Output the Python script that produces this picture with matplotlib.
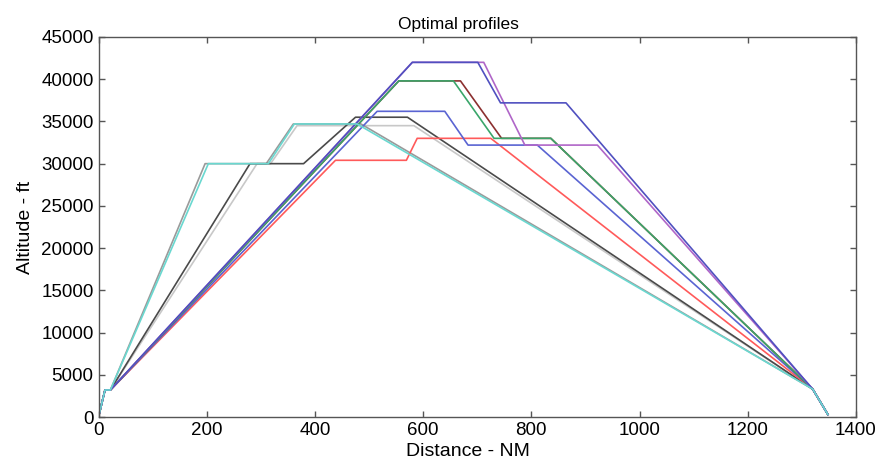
import matplotlib
matplotlib.use("Agg")
import matplotlib.pyplot as plt

plt.rcParams['font.family'] = ['Liberation Sans', 'DejaVu Sans']

# Distance (NM) and altitude (ft) of each optimal profile
blue_x = [0, 12, 22, 580, 701, 743, 864, 1320, 1348]
blue_y = [0, 3200, 3200, 42000, 42000, 37200, 37200, 3300, 300]
purple_x = [0, 12, 22, 580, 712, 788, 922, 1320, 1348]
purple_y = [0, 3200, 3200, 42000, 42000, 32200, 32200, 3300, 300]
green_x = [0, 12, 22, 555, 656, 731, 836, 1320, 1348]
green_y = [0, 3200, 3200, 39800, 39800, 33000, 33000, 3300, 300]
darkred_x = [0, 12, 22, 555, 669, 745, 836, 1320, 1348]
darkred_y = [0, 3200, 3200, 39800, 39800, 33000, 33000, 3300, 300]
blue2_x = [0, 12, 22, 515, 640, 683, 811, 1320, 1348]
blue2_y = [0, 3200, 3200, 36200, 36200, 32200, 32200, 3300, 300]
red_x = [0, 12, 22, 438, 569, 589, 725, 1320, 1348]
red_y = [0, 3200, 3200, 30400, 30400, 33000, 33000, 3300, 300]
black_x = [0, 12, 22, 280, 379, 475, 571, 1320, 1348]
black_y = [0, 3200, 3200, 30000, 30000, 35500, 35500, 3300, 300]
lightgray_x = [0, 12, 22, 293, 318, 367, 583, 1320, 1348]
lightgray_y = [0, 3200, 3200, 30000, 30000, 34500, 34500, 3300, 300]
gray_x = [0, 12, 22, 197, 310, 360, 485, 1320, 1348]
gray_y = [0, 3200, 3200, 30000, 30000, 34700, 34700, 3300, 300]
cyan_x = [0, 12, 22, 203, 314, 362, 478, 1320, 1348]
cyan_y = [0, 3200, 3200, 30000, 30000, 34700, 34700, 3300, 300]

xticks = [0, 200, 400, 600, 800, 1000, 1200, 1400]
yticks = [0, 5000, 10000, 15000, 20000, 25000, 30000, 35000, 40000, 45000]

fig = plt.figure(figsize=(8.85, 4.75), dpi=100)
ax = fig.add_axes([98.5 / 885, 1 - 417 / 475, (856 - 98.5) / 885, (417 - 37) / 475])

series = [
    (lightgray_x, lightgray_y, '#c8c8c8'),
    (gray_x, gray_y, '#9a9a9a'),
    (black_x, black_y, '#4a4a4a'),
    (red_x, red_y, '#ff5a5a'),
    (blue2_x, blue2_y, '#5a64d2'),
    (darkred_x, darkred_y, '#8c3030'),
    (green_x, green_y, '#3aa66a'),
    (purple_x, purple_y, '#b066c8'),
    (blue_x, blue_y, '#5050c0'),
    (cyan_x, cyan_y, '#6ad8d0'),
]
for x, y, c in series:
    ax.plot(x, y, color=c, lw=1.2)

ax.set_xlim(0, 1400)
ax.set_ylim(0, 45000)
ax.set_xticks(xticks)
ax.set_yticks(yticks)
ax.set_xticklabels([str(t) for t in xticks])
ax.set_yticklabels([str(t) for t in yticks])
ax.tick_params(direction='in', top=True, right=True, labelsize=13.5, length=4,
               color='#555555', width=1)
for s in ax.spines.values():
    s.set_color('#555555')
    s.set_linewidth(1)

ax.set_title('Optimal profiles', fontsize=12.5, pad=6, x=0.475)
ax.set_xlabel('Distance - NM', fontsize=14, labelpad=3, x=0.488)
ax.set_ylabel('Altitude - ft', fontsize=14, labelpad=5)

fig.savefig('out.png', dpi=100)
